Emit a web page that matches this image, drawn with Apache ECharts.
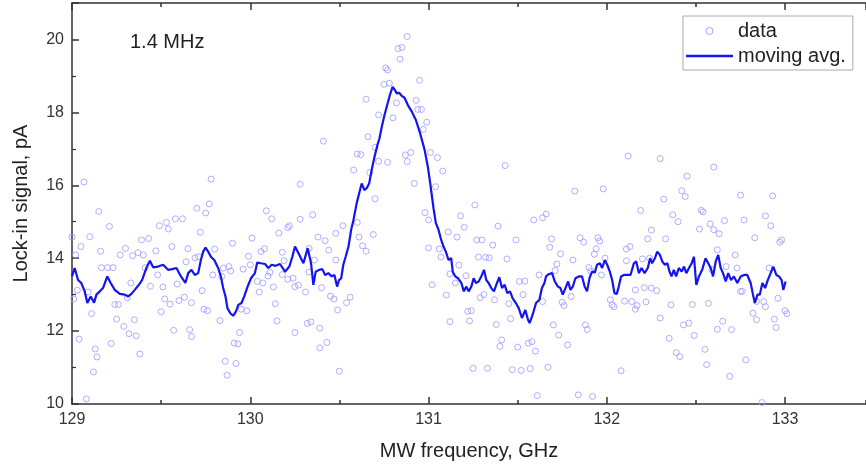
<!DOCTYPE html>
<html>
<head>
<meta charset="utf-8">
<script src="https://cdn.jsdelivr.net/npm/echarts@6/dist/echarts.min.js"></script>
<style>
  html, body { margin: 0; padding: 0; background: #fff; }
  #chart { width: 866px; height: 468px; }
</style>
</head>
<body>
<div id="chart"></div>
<script>
// raw lock-in readings [GHz, pA]
var dataPoints = [
    [129.067,16.09],[129.15,15.28],[129.21,14.87],[129.10,14.59],[129.00,14.58],[129.05,14.32],[129.02,14.09],[129.16,14.19],
    [129.165,13.74],[129.20,13.74],[129.23,13.74],[129.03,13.12],[129.01,12.88],[129.09,13.07],[129.11,12.48],[129.04,11.78],
    [129.13,11.51],[129.14,11.29],[129.12,10.88],[129.08,10.14],[129.22,11.66],[129.25,12.33],[129.24,12.73],[129.26,12.73],
    [129.29,12.13],[129.32,11.93],[129.36,11.87],[129.35,12.31],[129.38,11.37],[129.30,14.27],[129.27,14.09],[129.33,13.32],
    [129.34,14.07],[129.37,14.15],[129.40,14.09],[129.39,14.50],[129.43,14.54],[129.47,14.20],[129.41,13.74],[129.44,13.23],
    [129.48,13.54],[129.31,12.91],[129.49,14.89],[129.53,14.98],[129.54,14.80],[129.58,15.08],[129.62,15.08],[129.56,14.32],
    [129.51,13.21],[129.52,12.88],[129.55,12.74],[129.50,12.53],[129.57,12.02],[129.59,13.29],[129.60,12.84],[129.63,12.93],
    [129.65,14.26],[129.64,13.90],[129.66,12.04],[129.67,11.85],
    [129.78,16.17],[129.70,15.37],[129.75,15.24],[129.77,15.49],[129.72,14.71],[129.69,14.01],[129.71,14.04],[129.80,14.25],
    [129.90,14.41],[130.01,14.55],[129.99,14.05],[130.06,14.18],[130.08,14.26],[129.85,13.73],[129.88,13.77],[129.89,13.65],
    [129.79,13.54],[129.84,13.50],[129.96,13.70],[130.00,13.82],[129.67,12.78],[129.73,13.11],[129.74,12.60],[129.76,12.56],
    [129.83,12.29],[129.94,11.96],[129.91,11.67],[129.93,11.65],[129.86,11.17],[129.92,11.11],[129.87,10.79],[129.95,12.60],
    [129.98,12.56],[130.04,13.36],[130.07,13.32],[130.05,13.07],[130.11,13.61],[130.10,13.51],[130.13,13.21],[130.14,12.75],
    [130.15,12.28],[130.09,15.30],[130.12,15.08],[130.16,14.69],[130.21,14.84],[130.22,14.89],[130.18,14.16],[130.19,13.93],
    [130.18,13.55],[130.28,16.03],[130.28,15.07],[130.21,13.42],[130.24,13.45],[130.25,13.22],[130.27,13.26],[130.31,13.07],
    [130.25,11.96],[130.32,12.21],[130.34,12.25],[130.33,14.27],[130.35,15.19],[130.33,13.62],
    [130.88,20.08],[130.83,19.75],[130.85,19.78],[130.84,19.46],[130.76,19.22],[130.77,19.16],[130.75,18.77],[130.78,18.80],
    [130.65,18.36],[130.82,18.26],[130.95,18.88],[130.93,18.33],[130.94,18.08],[130.96,18.08],[130.99,17.73],[130.97,17.53],
    [130.72,17.93],[130.80,17.85],[130.66,17.33],[130.70,17.04],[130.60,16.86],[130.62,16.84],[130.72,16.66],[130.77,16.63],
    [130.87,16.83],[130.90,16.90],[130.88,16.65],[131.01,16.90],[130.58,16.42],[130.67,16.35],[130.92,16.05],[130.41,17.21],
    [130.70,15.63],[130.60,14.98],[130.69,14.65],[130.61,14.58],[130.63,14.34],[130.65,14.19],[130.98,15.25],[131.00,15.05],
    [131.00,14.28],[131.02,13.27],[130.52,14.89],[130.48,14.68],[130.38,14.58],[130.42,14.48],[130.44,14.22],[130.48,13.95],
    [130.36,13.95],[130.40,13.19],[130.45,12.96],[130.47,12.88],[130.56,12.93],[130.54,12.78],[130.49,12.58],[130.39,12.08],
    [130.43,11.69],[130.39,11.54],[130.50,10.90],
    [131.05,16.76],[131.08,16.39],[131.04,15.96],[131.43,16.54],[131.26,15.46],[131.18,15.16],[131.20,14.85],[131.11,14.72],
    [131.16,14.58],[131.27,14.50],[131.30,14.50],[131.39,14.88],[131.36,14.36],[131.49,14.50],[131.59,15.05],[131.64,15.11],
    [131.66,15.21],[131.68,14.30],[131.06,14.25],[131.07,14.03],[131.28,14.03],[131.32,14.02],[131.34,14.01],[131.44,13.98],
    [131.17,13.81],[131.12,13.57],[131.15,13.32],[131.21,13.52],[131.10,12.99],[131.29,12.92],[131.31,13.00],[131.37,12.86],
    [131.51,13.36],[131.54,13.37],[131.53,13.00],[131.62,13.54],[131.64,12.81],[131.45,12.75],[131.22,12.54],[131.24,12.56],
    [131.23,12.28],[131.12,12.26],[131.46,12.34],[131.38,12.18],[131.41,11.76],[131.40,11.58],[131.50,11.56],[131.56,11.67],
    [131.58,11.71],[131.60,11.45],[131.25,10.98],[131.33,10.98],[131.47,10.94],[131.52,10.92],[131.57,10.97],[131.67,11.01],
    [131.61,10.23],
    [132.12,16.80],[132.30,16.73],[131.82,15.84],[131.98,15.90],[132.32,15.62],[132.19,15.31],[132.37,15.19],[132.25,14.77],
    [132.23,14.53],[132.33,14.53],[131.69,14.53],[131.85,14.56],[131.87,14.44],[131.95,14.56],[131.96,14.47],[131.74,14.12],
    [131.94,14.26],[131.93,14.11],[132.11,14.25],[132.13,14.32],[131.81,13.95],[131.90,13.74],[131.91,13.65],[131.72,13.84],
    [131.71,13.66],[131.99,14.00],[132.11,13.93],[132.20,13.98],[132.24,14.00],[131.97,13.54],[131.80,12.95],[131.75,12.79],
    [131.76,12.70],[132.02,12.86],[132.03,12.72],[132.04,12.67],[132.10,12.82],[132.14,12.81],[132.17,12.70],[132.16,12.60],
    [132.22,12.80],[132.21,13.19],[132.25,13.18],[132.28,13.11],[132.16,13.13],[132.36,12.72],[132.30,12.36],[131.70,12.17],
    [131.73,11.89],[131.88,12.17],[131.89,12.04],[131.78,11.62],[132.35,11.80],[132.08,10.91],[131.84,10.25],[131.92,10.21],
    [132.60,16.50],[132.45,16.25],[132.42,15.85],[132.44,15.69],[132.75,15.73],[132.93,15.71],[132.40,15.00],[132.53,15.31],
    [132.54,15.27],[132.52,14.80],[132.58,14.94],[132.60,14.78],[132.63,14.67],[132.66,15.03],[132.77,15.05],[132.89,15.16],
    [132.92,14.89],[132.83,14.56],[132.98,14.50],[132.97,14.44],[132.62,14.23],[132.72,14.09],[132.67,13.77],[132.73,13.73],
    [132.91,13.73],[132.59,13.68],[132.75,13.09],[132.76,13.09],[132.96,12.90],[132.48,12.73],[132.57,12.76],[132.84,12.81],
    [132.88,12.81],[132.89,12.67],[132.82,12.49],[132.84,12.31],[133.00,12.56],[133.01,12.48],[132.94,12.33],[132.95,12.10],
    [132.43,12.17],[132.46,12.22],[132.65,12.27],[132.62,12.05],[132.70,12.04],[132.49,11.88],[132.55,11.50],[132.39,11.41],
    [132.41,11.30],[132.56,11.08],[132.78,11.21],[132.69,10.76],[132.87,10.04]
];

// moving average [GHz, pA]
var movingAvg = [
    [129.00,13.50],[129.015,13.73],[129.034,13.40],[129.052,13.32],[129.071,13.09],[129.086,12.77],[129.105,12.95],[129.124,12.78],
    [129.137,13.00],[129.156,13.09],[129.174,13.18],[129.198,13.50],[129.217,13.32],[129.24,13.13],[129.268,13.02],[129.296,13.00],
    [129.315,12.95],[129.333,13.02],[129.352,13.13],[129.375,13.27],[129.393,13.40],[129.417,13.73],[129.437,13.93],[129.455,13.75],
    [129.483,13.77],[129.511,13.82],[129.539,13.68],[129.562,13.70],[129.586,13.73],[129.611,13.50],[129.636,13.32],[129.652,13.59],
    [129.67,13.68],[129.689,13.54],[129.708,13.59],[129.723,13.95],[129.736,14.18],[129.749,14.29],[129.764,14.18],[129.779,14.04],
    [129.798,13.95],[129.82,13.73],[129.835,13.50],[129.848,13.18],[129.861,12.95],[129.872,12.63],[129.888,12.49],[129.904,12.42],
    [129.92,12.54],[129.933,12.72],[129.951,12.77],[129.966,12.95],[129.985,13.22],[130.004,13.45],[130.026,13.59],[130.039,13.88],
    [130.06,13.86],[130.083,13.84],[130.101,13.73],[130.12,13.82],[130.142,13.79],[130.167,13.84],[130.195,13.63],[130.219,13.77],
    [130.236,14.04],[130.251,14.32],[130.27,14.14],[130.298,13.86],[130.322,14.27],[130.341,13.86],[130.354,13.27],[130.367,13.63],
    [130.386,13.68],[130.404,13.70],[130.42,13.54],[130.438,13.59],[130.457,13.50],[130.472,13.54],[130.487,13.22],[130.498,13.40],
    [130.51,13.45],[130.522,13.82],[130.535,14.04],[130.551,14.32],[130.566,14.78],[130.579,15.05],[130.597,15.51],[130.611,15.78],
    [130.625,16.05],[130.64,15.87],[130.653,15.92],[130.667,16.05],[130.681,16.42],[130.697,16.78],[130.713,17.10],[130.725,17.29],
    [130.738,17.61],[130.753,17.93],[130.768,18.20],[130.783,18.47],[130.798,18.70],[130.809,18.63],[130.822,18.52],[130.835,18.54],
    [130.85,18.45],[130.865,18.40],[130.884,18.20],[130.906,18.02],[130.929,17.79],[130.953,17.42],[130.978,16.97],[130.996,16.51],
    [131.011,16.00],[131.028,15.37],[131.041,14.96],[131.056,14.78],[131.071,14.50],[131.084,14.32],[131.097,14.18],[131.112,13.95],
    [131.127,14.00],[131.136,13.63],[131.15,13.50],[131.165,13.45],[131.184,13.32],[131.198,13.09],[131.212,13.22],[131.225,13.09],
    [131.24,13.22],[131.253,13.45],[131.266,13.32],[131.281,13.36],[131.296,13.50],[131.311,13.68],[131.324,13.40],[131.337,13.32],
    [131.352,13.18],[131.367,13.09],[131.384,13.32],[131.397,13.48],[131.412,13.18],[131.427,13.27],[131.442,13.04],[131.457,13.09],
    [131.472,12.90],[131.49,12.77],[131.506,12.63],[131.524,12.36],[131.543,12.58],[131.558,12.31],[131.567,12.22],[131.584,12.45],
    [131.603,12.77],[131.622,12.86],[131.636,13.18],[131.65,13.32],[131.659,13.50],[131.674,13.56],[131.693,13.59],[131.708,13.36],
    [131.726,13.22],[131.74,13.18],[131.753,13.00],[131.768,13.18],[131.783,13.36],[131.796,13.13],[131.809,13.22],[131.824,13.45],
    [131.843,13.50],[131.861,13.50],[131.876,13.22],[131.889,13.09],[131.903,13.45],[131.917,13.63],[131.933,13.61],[131.945,13.82],
    [131.961,13.86],[131.974,13.73],[131.989,13.95],[132.002,13.82],[132.017,13.63],[132.03,13.40],[132.043,13.04],[132.056,13.02],
    [132.067,13.22],[132.08,13.50],[132.096,13.54],[132.114,13.54],[132.133,13.54],[132.152,13.86],[132.165,13.91],[132.18,13.59],
    [132.195,13.73],[132.212,13.59],[132.23,13.73],[132.243,14.00],[132.254,13.86],[132.27,14.00],[132.283,14.18],[132.298,14.09],
    [132.311,13.91],[132.326,13.82],[132.34,13.86],[132.352,13.63],[132.363,13.50],[132.376,13.68],[132.389,13.50],[132.404,13.73],
    [132.42,13.63],[132.433,13.77],[132.446,13.59],[132.461,13.73],[132.476,13.86],[132.489,14.04],[132.502,13.27],[132.517,13.50],
    [132.535,13.68],[132.554,14.00],[132.569,13.86],[132.583,13.73],[132.596,13.50],[132.611,13.91],[132.625,14.09],[132.639,13.73],
    [132.652,13.59],[132.667,13.36],[132.681,13.59],[132.697,13.40],[132.713,13.50],[132.732,13.32],[132.751,13.50],[132.77,13.54],
    [132.788,13.54],[132.807,13.32],[132.82,13.00],[132.831,12.77],[132.845,13.00],[132.858,13.00],[132.873,13.32],[132.888,13.18],
    [132.903,13.40],[132.919,13.59],[132.934,13.77],[132.951,13.54],[132.966,13.50],[132.981,13.40],[132.99,13.13],[133.003,13.36]
];

// x range is cut by the right edge of the picture
var freqRange = [129, 133.454];
var signalRange = [10, 21];
var seriesNames = ['data', 'moving avg.'];
var noteText = '1.4 MHz';

var font = 'Arial, "Liberation Sans", sans-serif';
var axisColor = '#333';
var lineBlue = '#1414f0';

var myChart = echarts.init(document.getElementById('chart'), null, {renderer: 'canvas'});

// one x axis for the major ticks, one for the half-step ticks, at bottom and top
function xAxisOf(position, step, tickLen, withLine, withLabel) {
    var ax = {
        type: 'value',
        position: position,
        min: freqRange[0],
        max: freqRange[1],
        interval: step,
        axisLine: {show: withLine, lineStyle: {color: axisColor, width: 1.5}},
        axisTick: {inside: true, length: tickLen, lineStyle: {color: axisColor, width: 1.5}},
        axisLabel: {show: withLabel, fontFamily: font, fontSize: 16, color: axisColor, margin: 8, showMaxLabel: false},
        splitLine: {show: false}
    };
    if (withLabel) {
        ax.name = 'MW frequency, GHz';
        ax.nameLocation = 'middle';
        ax.nameGap = 37;
        ax.nameTextStyle = {fontFamily: font, fontSize: 20, color: '#222'};
    }
    return ax;
}

var option = {
    animation: false,
    backgroundColor: '#fff',
    grid: {left: 72, right: 0, top: 3, bottom: 64},
    xAxis: [
        xAxisOf('bottom', 1, 7, true, true),
        xAxisOf('top', 1, 7, true, false),
        xAxisOf('bottom', 0.5, 4, false, false),
        xAxisOf('top', 0.5, 4, false, false)
    ],
    yAxis: {
        type: 'value',
        min: signalRange[0],
        max: signalRange[1],
        interval: 2,
        name: 'Lock-in signal, pA',
        nameLocation: 'middle',
        nameGap: 41,
        nameTextStyle: {fontFamily: font, fontSize: 20, color: '#222'},
        axisLine: {show: true, lineStyle: {color: axisColor, width: 1.5}},
        axisTick: {inside: true, length: 7, lineStyle: {color: axisColor, width: 1.5}},
        minorTick: {show: true, splitNumber: 2, length: 4, lineStyle: {color: axisColor, width: 1.2}},
        axisLabel: {fontFamily: font, fontSize: 16, color: axisColor, margin: 8, showMaxLabel: false},
        splitLine: {show: false}
    },
    legend: {
        orient: 'vertical',
        left: 683,
        top: 16,
        padding: [5, 7, 4, 3],
        itemGap: 5,
        itemWidth: 47,
        itemHeight: 7,
        backgroundColor: '#fff',
        borderColor: '#aaa',
        borderWidth: 1,
        textStyle: {fontFamily: font, fontSize: 20, color: '#222'},
        data: [
            {name: seriesNames[0], icon: 'circle',
             itemStyle: {color: 'rgba(0,0,0,0)', borderColor: '#8f8fff', borderWidth: 1}},
            {name: seriesNames[1], icon: 'path://M0,0 L47,0 L47,2.4 L0,2.4 Z',
             itemStyle: {color: lineBlue, borderWidth: 0}}
        ]
    },
    graphic: [{
        type: 'text',
        left: 130,
        top: 32,
        style: {text: noteText, fontFamily: font, fontSize: 20, fill: '#222'}
    }],
    series: [
        {
            name: seriesNames[0],
            type: 'scatter',
            data: dataPoints,
            symbol: 'circle',
            symbolSize: 6,
            itemStyle: {color: 'rgba(0,0,0,0)', borderColor: '#9a9aff', borderWidth: 1},
            z: 1
        },
        {
            name: seriesNames[1],
            type: 'line',
            data: movingAvg,
            showSymbol: false,
            symbol: 'none',
            lineStyle: {color: lineBlue, width: 2.2},
            itemStyle: {color: lineBlue},
            z: 2
        }
    ]
};
myChart.setOption(option);
</script>
</body>
</html>
